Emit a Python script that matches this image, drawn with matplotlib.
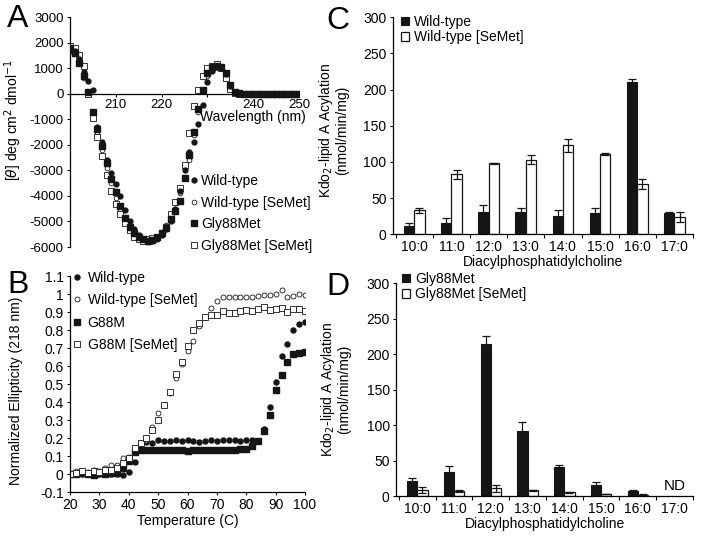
import matplotlib
matplotlib.use('Agg')
import matplotlib.pyplot as plt
from matplotlib.ticker import FormatStrFormatter, MultipleLocator

plt.rcParams['font.family'] = ['Liberation Sans', 'DejaVu Sans']
plt.rcParams['font.size'] = 10
plt.rcParams['axes.linewidth'] = 0.9
plt.rcParams['axes.unicode_minus'] = False

nan = float('nan')

# ---- panel A: CD spectra ----
wavelength = [200, 201, 202, 203, 204, 205, 206, 207, 208, 209, 210, 211, 212, 213, 214, 215,
              216, 217, 218, 219, 220, 221, 222, 223, 224, 225, 226, 227, 228, 229, 230, 231,
              232, 233, 234, 235, 236, 237, 238, 239, 240, 241, 242, 243, 244, 245, 246, 247,
              248, 249, 250]
cd_wt = [1650, 1650, 1350, 850, 500, 150, -1300, -1900, -2600, -3100, -3550, -4000, -4550, -5000,
         -5300, -5550, -5700, -5780, -5780, -5700, -5550, -5300, -5000, -4500, -3800, -3000, -2300,
         -1900, -1200, -450, 450, 900, 1050, 1000, 750, 300, 50, 0, 0, 0, 0, 0, 0, 0, 0, 0, 0, 0,
         0, 0, 0]
cd_wt_semet = [1750, 1650, 1250, 600, 50, -900, -1500, -2200, -2900, -3500, -4100, -4600, -5000,
               -5300, -5550, -5700, -5770, -5800, -5700, -5600, -5400, -5150, -4850, -4500, -3900,
               -3300, -2600, -1600, -700, 100, 700, 1000, 1100, 1000, 650, 200, 20, 0, 0, 0, 0, 0,
               0, 0, 0, 0, 0, 0, 0, 0, 0]
cd_g88m = [1800, 1600, 1200, 700, 50, -700, -1400, -2050, -2700, -3350, -3850, -4400, -4850, -5200,
           -5450, -5600, -5700, -5750, -5720, -5600, -5450, -5250, -4900, -4600, -4200, -3300,
           -2400, -1500, -600, 150, 800, 1050, 1100, 1050, 800, 350, 80, 20, 0, 0, 0, 0, 0, 0, 0,
           0, 0, 0, 0, 0, 0]
cd_g88m_semet = [1850, 1800, 1500, 1100, 0, -950, -1700, -2450, -3200, -3800, -4300, -4700, -5050,
                 -5350, -5600, -5700, -5750, -5700, -5650, -5600, -5450, -5200, -4700, -4250,
                 -3700, -2800, -1550, -500, 150, 700, 1000, 1100, 1150, 1000, 600, 200, 30, 0, 0,
                 0, 0, 0, 0, 0, 0, 0, 0, 0, 0, 0, 0]

# ---- panel B: thermal melts ----
temperature = [20, 22, 24, 26, 28, 30, 32, 34, 36, 38, 40, 42, 44, 46, 48, 50, 52, 54, 56, 58, 60,
               62, 64, 66, 68, 70, 72, 74, 76, 78, 80, 82, 84, 86, 88, 90, 92, 94, 96, 98, 100]
melt_wt = [0, 0, 0, 0, 0, 0, 0, 0, 0, -0.005, 0.01, 0.065, 0.17, 0.18, 0.175, 0.19, 0.185, 0.185,
           0.19, 0.185, 0.19, 0.185, 0.18, 0.185, 0.19, 0.185, 0.19, 0.19, 0.19, 0.185, 0.19, 0.19,
           0.185, 0.25, 0.37, 0.51, 0.655, 0.72, 0.80, 0.835, 0.845]
melt_wt_semet = [0, 0.015, 0.01, 0.01, 0.02, 0.015, 0.035, 0.05, 0.05, 0.09, 0.095, 0.13, 0.175,
                 0.19, 0.26, 0.34, 0.385, 0.45, 0.535, 0.61, 0.685, 0.74, 0.82, 0.875, 0.925, 0.96,
                 0.985, 0.985, 0.985, 0.985, 0.985, 0.985, 0.99, 0.995, 0.995, 1.0, 1.02, 0.985,
                 0.99, 1.0, 0.995]
melt_g88m = [0, 0, 0.005, 0, -0.005, 0.005, 0, 0.005, 0.005, 0.035, 0.075, 0.12, 0.135, 0.135,
             0.135, 0.135, 0.135, 0.135, 0.135, 0.135, 0.13, 0.135, 0.135, 0.135, 0.135, 0.135,
             0.135, 0.135, 0.135, 0.14, 0.14, 0.155, 0.185, 0.24, 0.33, 0.465, 0.55, 0.625, 0.665,
             0.675, 0.68]
melt_g88m_semet = [0, 0.005, 0.015, 0.005, 0.015, 0.01, 0.02, 0.025, 0.035, 0.06, 0.09, 0.145,
                   0.175, 0.2, 0.245, 0.3, 0.385, 0.455, 0.555, 0.625, 0.71, 0.80, 0.84, 0.87,
                   0.885, 0.885, 0.905, 0.895, 0.895, 0.905, 0.91, 0.905, 0.915, 0.93, 0.91,
                   0.915, 0.925, 0.9, 0.915, 0.915, 0.905]

# ---- panels C, D: activity ----
lipids = ['10:0', '11:0', '12:0', '13:0', '14:0', '15:0', '16:0', '17:0']
act_wt = [11, 15, 31, 31, 25, 29, 210, 29]
act_wt_err = [5, 8, 9, 5, 9, 7, 5, 2]
act_wt_semet = [33, 83, 98, 103, 123, 111, 70, 24]
act_wt_semet_err = [4, 6, 1, 6, 9, 2, 7, 7]
act_g88m = [21, 34, 215, 92, 41, 15, 7, nan]          # 17:0 not determined
act_g88m_err = [5, 9, 11, 12, 3, 5, 2, nan]
act_g88m_semet = [8, 7, 11, 8, 5, 3, 2, nan]
act_g88m_semet_err = [4, 1, 5, 0.5, 0.5, 0.5, 0.5, nan]

W, H = 704, 537
fig = plt.figure(figsize=(W / 100, H / 100), dpi=100)


def box(l, t, r, b):
    return [l / W, 1 - b / H, (r - l) / W, (b - t) / H]


def fig_xy(x, y):
    return x / W, 1 - y / H


TICK = 9.5
dark = '#151515'

# ---------------- A ----------------
axA = fig.add_axes(box(70, 17, 299, 247))
axA.plot(wavelength, cd_wt, 'o', ms=3.5, color=dark, label='Wild-type', zorder=4)
axA.plot(wavelength, cd_wt_semet, 'o', ms=3.4, mfc='white', mec=dark, mew=0.6,
         label='Wild-type [SeMet]', zorder=2)
axA.plot(wavelength, cd_g88m, 's', ms=5.0, color=dark, label='Gly88Met', zorder=3)
axA.plot(wavelength, cd_g88m_semet, 's', ms=4.4, mfc='white', mec=dark, mew=0.6,
         label='Gly88Met [SeMet]', zorder=2)
axA.set_xlim(200, 250)
axA.set_ylim(-6000, 3000)
axA.spines['top'].set_visible(False)
axA.spines['right'].set_visible(False)
axA.spines['bottom'].set_position(('data', 0))
axA.set_xticks([210, 220, 230, 240, 250])
axA.set_xticklabels(['210', '220', '', '240', '250'])
axA.yaxis.set_major_locator(MultipleLocator(1000))
axA.tick_params(direction='out', length=2.5, width=0.8, labelsize=TICK, pad=2)
axA.tick_params(axis='x', pad=1)
axA.set_ylabel(r'[$\theta$] deg cm$^2$ dmol$^{-1}$')
axA.yaxis.set_label_coords(-0.2, 0.55)
axA.text(306 / W, 1 - 117 / H, 'Wavelength (nm)', transform=fig.transFigure,
         ha='right', va='center')
axA.legend(loc='upper left', bbox_to_anchor=fig_xy(190, 174), bbox_transform=fig.transFigure,
           frameon=False, borderpad=0, handlelength=0.6, handletextpad=0.2, labelspacing=0.55,
           borderaxespad=0)

# ---------------- B ----------------
axB = fig.add_axes(box(70, 276, 305, 492))
axB.plot(temperature, melt_wt, 'o', ms=3.6, color=dark, label='Wild-type')
axB.plot(temperature, melt_wt_semet, 'o', ms=3.6, mfc='white', mec=dark, mew=0.6,
         label='Wild-type [SeMet]')
axB.plot(temperature, melt_g88m, 's', ms=4.2, color=dark, label='G88M')
axB.plot(temperature, melt_g88m_semet, 's', ms=4.2, mfc='white', mec=dark, mew=0.6,
         label='G88M [SeMet]')
axB.set_xlim(20, 100)
axB.set_ylim(-0.1, 1.1)
axB.spines['top'].set_visible(False)
axB.spines['right'].set_visible(False)
axB.xaxis.set_major_locator(MultipleLocator(10))
axB.yaxis.set_major_locator(MultipleLocator(0.1))
axB.yaxis.set_major_formatter(FormatStrFormatter('%g'))
axB.tick_params(direction='out', length=2.5, width=0.8, labelsize=TICK + 0.5, pad=2)
axB.set_ylabel('Normalized Ellipticity (218 nm)')
axB.yaxis.set_label_coords(-0.2, 0.47)
axB.set_xlabel('Temperature (C)', labelpad=1)
axB.legend(loc='upper left', bbox_to_anchor=fig_xy(71, 271), bbox_transform=fig.transFigure,
           frameon=False, borderpad=0, handlelength=0.8, handletextpad=0.4, labelspacing=0.6,
           borderaxespad=0)


# ---------------- C, D ----------------
def bar_panel(rect, a, a_err, b, b_err, la, lb, leg_xy):
    ax = fig.add_axes(rect)
    x = list(range(len(lipids)))
    w = 0.28
    xa = [i - w / 2 for i in x]
    xb = [i + w / 2 for i in x]
    ax.bar(xa, a, w, color=dark, edgecolor=dark, linewidth=0.8, label=la)
    ax.bar(xb, b, w, color='white', edgecolor=dark, linewidth=0.9, label=lb)
    ax.errorbar(xa, a, yerr=a_err, fmt='none', ecolor=dark, elinewidth=0.9, capsize=3,
                capthick=0.9)
    ax.errorbar(xb, b, yerr=b_err, fmt='none', ecolor=dark, elinewidth=0.9, capsize=3,
                capthick=0.9)
    ax.set_xlim(-0.58, 7.5)
    ax.set_ylim(0, 300)
    ax.spines['top'].set_visible(False)
    ax.spines['right'].set_visible(False)
    ax.set_xticks(x)
    ax.set_xticklabels(lipids)
    ax.set_xticks([i - 0.5 for i in x] + [7.5], minor=True)
    ax.tick_params(axis='x', which='major', length=0, labelsize=TICK + 0.5, pad=4)
    ax.tick_params(axis='x', which='minor', direction='out', length=3, width=0.8)
    ax.yaxis.set_major_locator(MultipleLocator(50))
    ax.tick_params(axis='y', direction='out', length=2.5, width=0.8, labelsize=TICK + 0.5, pad=2)
    ax.set_xlabel('Diacylphosphatidylcholine', labelpad=1)
    ax.set_ylabel('Kdo$_2$-lipid A Acylation\n(nmol/min/mg)', linespacing=1.0)
    ax.legend(loc='upper left', bbox_to_anchor=fig_xy(*leg_xy), bbox_transform=fig.transFigure,
              frameon=False, borderpad=0, handlelength=0.55, handleheight=0.55,
              handletextpad=0.4, labelspacing=0.1, borderaxespad=0)
    return ax


axC = bar_panel(box(392.7, 17.3, 693, 234.3), act_wt, act_wt_err, act_wt_semet,
                act_wt_semet_err, 'Wild-type', 'Wild-type [SeMet]', (401, 15))
axC.yaxis.set_label_coords(-0.145, 0.48)
axD = bar_panel(box(396, 283.3, 693, 496), act_g88m, act_g88m_err, act_g88m_semet,
                act_g88m_semet_err, 'Gly88Met', 'Gly88Met [SeMet]', (402, 272))
axD.yaxis.set_label_coords(-0.15, 0.5)
axD.text(7, 14, 'ND', ha='center', va='center', fontsize=TICK + 1.5)

# panel letters
for letter, (px, py) in zip('ABCD', [(18, 19), (18, 285), (338, 21), (338, 287)]):
    fig.text(px / W, 1 - py / H, letter, fontsize=23, ha='center', va='center')

fig.savefig('out.png', dpi=100)
